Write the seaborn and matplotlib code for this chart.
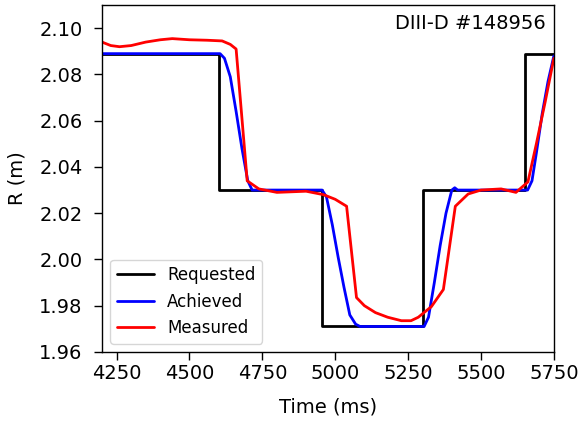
import numpy as np
import pandas as pd
import matplotlib
matplotlib.use('Agg')
import matplotlib.pyplot as plt
import seaborn as sns

# requested (step)
req_t = [4200, 4600, 4600, 4955, 4955, 5300, 5300, 5650, 5650, 5750]
req_r = [2.089, 2.089, 2.030, 2.030, 1.971, 1.971, 2.030, 2.030, 2.089, 2.089]

# achieved
ach_t = [4200, 4605, 4620, 4640, 4660, 4680, 4700, 4715, 4955, 4970, 4990, 5010, 5030, 5050,
         5070, 5085, 5305, 5320, 5340, 5360, 5380, 5400, 5410, 5420, 5660, 5675, 5690, 5710, 5730, 5750]
ach_r = [2.089, 2.089, 2.087, 2.079, 2.064, 2.048, 2.034, 2.030, 2.030, 2.027, 2.015, 2.001,
         1.988, 1.976, 1.972, 1.971, 1.971, 1.975, 1.990, 2.006, 2.020, 2.030, 2.031, 2.030,
         2.030, 2.034, 2.046, 2.063, 2.077, 2.088]

# measured
mea_t = [4200, 4230, 4260, 4300, 4350, 4400, 4441, 4500, 4560, 4612, 4640, 4660, 4698, 4738,
         4800, 4900, 4960, 5000, 5039, 5073, 5100, 5138, 5180, 5227, 5260, 5285, 5330, 5371,
         5412, 5456, 5500, 5569, 5620, 5661, 5690, 5720, 5750]
mea_r = [2.094, 2.0925, 2.092, 2.0925, 2.094, 2.095, 2.0955, 2.095, 2.0948, 2.0945, 2.093,
         2.091, 2.034, 2.0305, 2.029, 2.0295, 2.028, 2.026, 2.023, 1.9835, 1.980, 1.977, 1.975,
         1.9735, 1.9735, 1.975, 1.9796, 1.987, 2.023, 2.0283, 2.030, 2.0305, 2.029, 2.0335,
         2.050, 2.068, 2.087]

sns.set_style('white')
plt.rcParams['font.family'] = ['DejaVu Sans']
plt.rcParams['text.color'] = 'black'
plt.rcParams['axes.labelcolor'] = 'black'

fig = plt.figure(figsize=(5.83, 4.24), dpi=100)
ax = fig.add_axes([0.175, 0.170, 0.775, 0.818])

sns.lineplot(x=req_t, y=req_r, color='black', lw=2, label='Requested', ax=ax, sort=False, estimator=None)
sns.lineplot(x=ach_t, y=ach_r, color='blue', lw=2, label='Achieved', ax=ax, sort=False, estimator=None)
sns.lineplot(x=mea_t, y=mea_r, color='red', lw=2, label='Measured', ax=ax, sort=False, estimator=None)

ax.set_xlim(4200, 5750)
ax.set_ylim(1.96, 2.11)
ax.set_xticks([4250, 4500, 4750, 5000, 5250, 5500, 5750])
ax.set_yticks([1.96, 1.98, 2.00, 2.02, 2.04, 2.06, 2.08, 2.10])
ax.set_yticklabels(['%.2f' % v for v in [1.96, 1.98, 2.00, 2.02, 2.04, 2.06, 2.08, 2.10]])
ax.tick_params(axis='both', labelsize=14, direction='out', length=6, width=1, bottom=True, left=True,
               colors='black')
ax.tick_params(axis='x', pad=3)
ax.tick_params(axis='y', pad=8)
ax.set_xlabel('Time (ms)', fontsize=14, labelpad=10)
ax.set_ylabel('R (m)', fontsize=14, labelpad=9)
for s in ax.spines.values():
    s.set_color('black')
    s.set_linewidth(1)
ax.text(0.983, 0.975, 'DIII-D #148956', transform=ax.transAxes, ha='right', va='top', fontsize=14)
ax.legend(loc='lower left', fontsize=12, frameon=True, handlelength=2.2)

fig.savefig('out.png', dpi=100)
